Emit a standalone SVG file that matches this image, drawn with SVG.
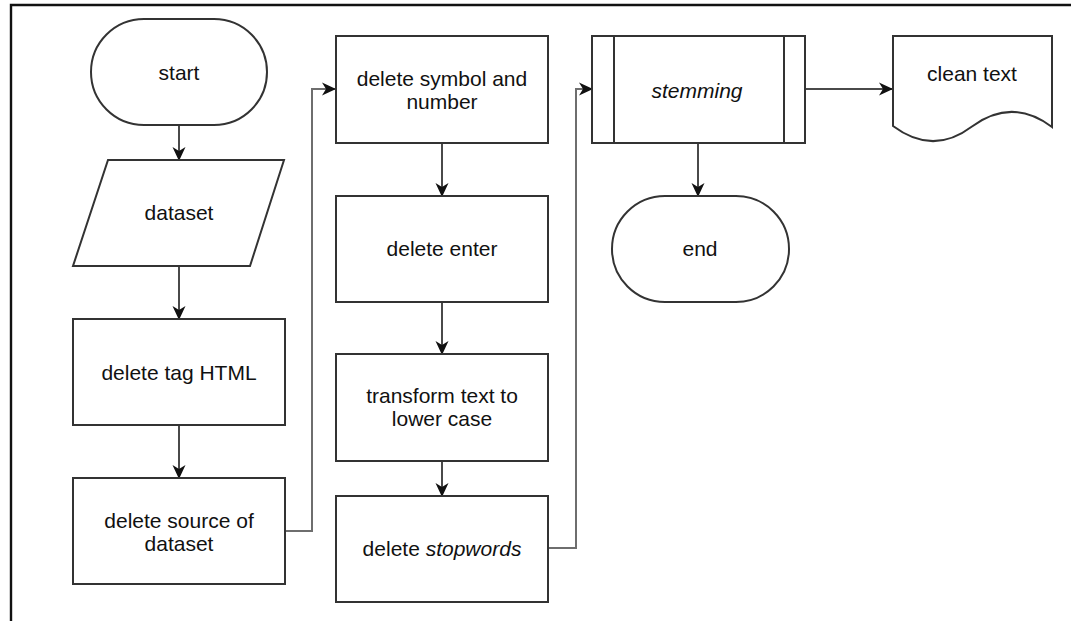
<svg xmlns="http://www.w3.org/2000/svg" width="1071" height="621" viewBox="0 0 1071 621">
  <style>
    .shape { fill: #ffffff; stroke: #333333; stroke-width: 2; }
    .label { font-family: "Liberation Sans", Arial, sans-serif; font-size: 21px; fill: #111111; text-anchor: middle; }
    .it { font-style: italic; }
    .edge { fill: none; stroke: #4a4a4a; stroke-width: 2; }
    .loop { fill: none; stroke: #6e6e6e; stroke-width: 2; }
    .frame { fill: none; stroke: #111111; stroke-width: 2.4; }
  </style>
  <defs>
    <marker id="arrow" viewBox="0 0 14 14" refX="13" refY="7" markerWidth="14" markerHeight="14" markerUnits="userSpaceOnUse" orient="auto">
      <path d="M0,0.5 L14,7 L0,13.5 L4,7 Z" fill="#111111"/>
    </marker>
  </defs>

  <rect width="1071" height="621" fill="#ffffff"/>
  <!-- outer frame: top and left edges only -->
  <path class="frame" d="M11,621 V5 H1071"/>

  <!-- connectors -->
  <g id="connectors">
    <path class="edge" d="M179,125 V160" marker-end="url(#arrow)"/>
    <path class="edge" d="M179,266 V319" marker-end="url(#arrow)"/>
    <path class="edge" d="M179,425 V478" marker-end="url(#arrow)"/>
    <path class="loop" d="M285,531 H312 V89 H335" marker-end="url(#arrow)"/>
    <path class="edge" d="M442,143 V196" marker-end="url(#arrow)"/>
    <path class="edge" d="M442,302 V354" marker-end="url(#arrow)"/>
    <path class="edge" d="M442,461 V496" marker-end="url(#arrow)"/>
    <path class="loop" d="M548,548 H576 V89 H592" marker-end="url(#arrow)"/>
    <path class="edge" d="M805,89 H892" marker-end="url(#arrow)"/>
    <path class="edge" d="M698,143 V196" marker-end="url(#arrow)"/>
  </g>

  <g id="start">
    <rect class="shape" x="91" y="19" width="176" height="106" rx="53" ry="53"/>
    <text class="label" x="179" y="80">start</text>
  </g>

  <g id="dataset">
    <polygon class="shape" points="108,160 284,160 250,266 73,266"/>
    <text class="label" x="179" y="220">dataset</text>
  </g>

  <g id="delete-tag-html">
    <rect class="shape" x="73" y="319" width="212" height="106"/>
    <text class="label" x="179" y="380">delete tag HTML</text>
  </g>

  <g id="delete-source">
    <rect class="shape" x="73" y="478" width="212" height="106"/>
    <text class="label" x="179" y="528">delete source of</text>
    <text class="label" x="179" y="551">dataset</text>
  </g>

  <g id="delete-symbol">
    <rect class="shape" x="336" y="36" width="212" height="107"/>
    <text class="label" x="442" y="86">delete symbol and</text>
    <text class="label" x="442" y="109">number</text>
  </g>

  <g id="delete-enter">
    <rect class="shape" x="336" y="196" width="212" height="106"/>
    <text class="label" x="442" y="256">delete enter</text>
  </g>

  <g id="lower-case">
    <rect class="shape" x="336" y="354" width="212" height="107"/>
    <text class="label" x="442" y="403">transform text to</text>
    <text class="label" x="442" y="426">lower case</text>
  </g>

  <g id="delete-stopwords">
    <rect class="shape" x="336" y="496" width="212" height="106"/>
    <text class="label" x="442" y="556">delete <tspan class="it">stopwords</tspan></text>
  </g>

  <g id="stemming">
    <rect class="shape" x="592" y="36" width="213" height="107"/>
    <path class="shape" d="M614,36 V143 M784,36 V143"/>
    <text class="label it" x="697" y="98">stemming</text>
  </g>

  <g id="clean-text">
    <path class="shape" d="M893,36 H1052 V127 Q1012,97 972,126.5 Q933,156 893,126 Z"/>
    <text class="label" x="972" y="81">clean text</text>
  </g>

  <g id="end">
    <rect class="shape" x="612" y="196" width="177" height="106" rx="53" ry="53"/>
    <text class="label" x="700" y="256">end</text>
  </g>
</svg>
